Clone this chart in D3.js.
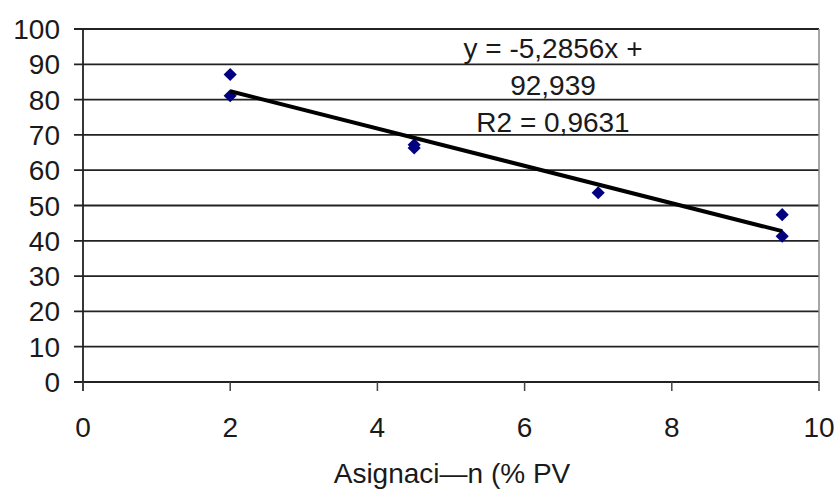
<!DOCTYPE html>
<html>
<head>
<meta charset="utf-8">
<script src="https://cdn.jsdelivr.net/npm/d3@7"></script>
<style>
  body { margin: 0; background: #fff; }
  text { font-family: "Liberation Sans", Arial, sans-serif; fill: #1a1a1a; }
</style>
</head>
<body>
<div id="chart"></div>
<script>
"use strict";

// data
var xValues = [2, 2, 4.5, 4.5, 7, 9.5, 9.5];
var yValues = [87.1, 81.1, 67.2, 66.3, 53.6, 47.4, 41.3];
var xTicks = [0, 2, 4, 6, 8, 10];
var yTicks = [0, 10, 20, 30, 40, 50, 60, 70, 80, 90, 100];
var slope = -5.2856, intercept = 92.939;
var trendRange = [2, 9.5];
var equationLines = ["y = -5,2856x +", "92,939", "R2 = 0,9631"];
var xTitle = "Asignaci\u2014n (% PV";

var width = 839, height = 491;
var margin = {left: 83, right: 20, top: 29, bottom: 109};

var svg = d3.select('#chart').append('svg')
  .attr('width', width).attr('height', height);

var x = d3.scaleLinear().domain([0, 10]).range([margin.left, width - margin.right]);
var y = d3.scaleLinear().domain([0, 100]).range([height - margin.bottom, margin.top]);

// horizontal gridlines + y ticks
svg.append('g').selectAll('line').data(yTicks).enter().append('line')
  .attr('x1', x(0) - 9).attr('x2', x(10))
  .attr('y1', function(d){ return y(d) }).attr('y2', function(d){ return y(d) })
  .attr('stroke', '#222').attr('stroke-width', 1.8);

// right border of plot
svg.append('line')
  .attr('x1', x(10)).attr('x2', x(10)).attr('y1', y(100)).attr('y2', y(0))
  .attr('stroke', '#888').attr('stroke-width', 1.5);

// y axis line
svg.append('line')
  .attr('x1', x(0)).attr('x2', x(0)).attr('y1', y(100)).attr('y2', y(0) + 9)
  .attr('stroke', '#222').attr('stroke-width', 1.8);

// x ticks
svg.append('g').selectAll('line').data(xTicks).enter().append('line')
  .attr('x1', function(d){ return x(d) }).attr('x2', function(d){ return x(d) })
  .attr('y1', y(0)).attr('y2', y(0) + 9)
  .attr('stroke', '#444').attr('stroke-width', 1.5);

// tick labels
svg.append('g').selectAll('text').data(yTicks).enter().append('text')
  .attr('x', x(0) - 23).attr('y', function(d){ return y(d) + 10 })
  .attr('text-anchor', 'end').style('font-size', '28px')
  .text(function(d){ return d });

svg.append('g').selectAll('text').data(xTicks).enter().append('text')
  .attr('x', function(d){ return x(d) }).attr('y', y(0) + 55)
  .attr('text-anchor', 'middle').style('font-size', '28px')
  .text(function(d){ return d });

svg.append('text')
  .attr('x', 452).attr('y', 483)
  .attr('text-anchor', 'middle').style('font-size', '28px')
  .text(xTitle);

// points
var points = xValues.map(function(v, i){ return {x: v, y: yValues[i]} });
svg.append('g').selectAll('path').data(points).enter().append('path')
  .attr('d', d3.symbol().type(d3.symbolDiamond2).size(110))
  .attr('transform', function(d){ return 'translate(' + x(d.x) + ',' + y(d.y) + ')' })
  .attr('fill', '#000080');

// trendline
svg.append('line')
  .attr('x1', x(trendRange[0])).attr('y1', y(slope * trendRange[0] + intercept))
  .attr('x2', x(trendRange[1])).attr('y2', y(slope * trendRange[1] + intercept))
  .attr('stroke', '#000').attr('stroke-width', 4);

// equation label
svg.append('g').selectAll('text').data(equationLines).enter().append('text')
  .attr('x', 553).attr('y', function(d, i){ return 58 + i * 37 })
  .attr('text-anchor', 'middle').style('font-size', '28px')
  .text(function(d){ return d });
</script>
</body>
</html>
